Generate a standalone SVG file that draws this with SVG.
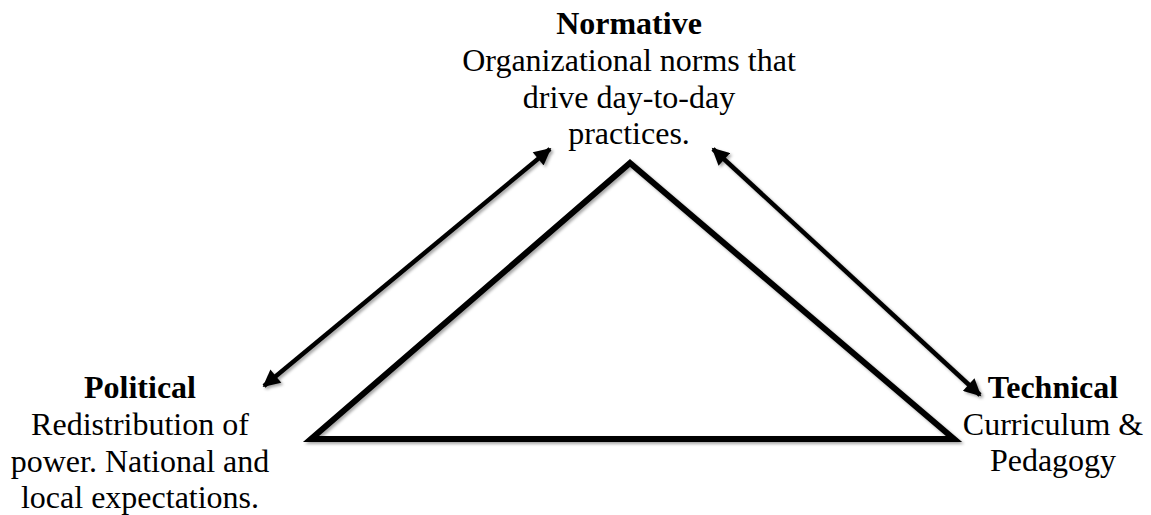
<svg xmlns="http://www.w3.org/2000/svg" width="1151" height="515" viewBox="0 0 1151 515">
<defs>
<style>
text{font-family:"Liberation Serif","Times New Roman",serif;font-size:32px;fill:#000;text-anchor:middle}
.b{font-weight:bold}
.tri{fill:none;stroke:#000;stroke-width:6;stroke-linejoin:miter}
.arr{stroke:#000;stroke-width:4.5;fill:none;marker-start:url(#ah);marker-end:url(#ah)}
</style>
<marker id="ah" viewBox="0 0 10 10" refX="9" refY="5" markerWidth="4.2" markerHeight="3.8" orient="auto-start-reverse" markerUnits="strokeWidth">
<path d="M0,0 L10,5 L0,10 z" fill="#000"/>
</marker>
<filter id="sh" x="-10%" y="-10%" width="120%" height="120%">
<feDropShadow dx="2" dy="2" stdDeviation="1.5" flood-color="#000" flood-opacity="0.35"/>
</filter>
</defs>
<g id="triangle" filter="url(#sh)">
<polygon class="tri" points="630,163 954,439 311,439"/>
</g>
<g id="connectors" filter="url(#sh)">
<line class="arr" x1="264" y1="386" x2="550" y2="149"/>
<line class="arr" x1="713" y1="149" x2="980" y2="395"/>
</g>
<g id="normative">
<text class="b" x="629" y="34">Normative</text>
<text x="629" y="71">Organizational norms that</text>
<text x="629" y="108">drive day-to-day</text>
<text x="629" y="144">practices.</text>
</g>
<g id="political">
<text class="b" x="140" y="398">Political</text>
<text x="140" y="435">Redistribution of</text>
<text x="140" y="472">power. National and</text>
<text x="140" y="508">local expectations.</text>
</g>
<g id="technical">
<text class="b" x="1053" y="398">Technical</text>
<text x="1053" y="435">Curriculum &amp;</text>
<text x="1053" y="471">Pedagogy</text>
</g>
</svg>
